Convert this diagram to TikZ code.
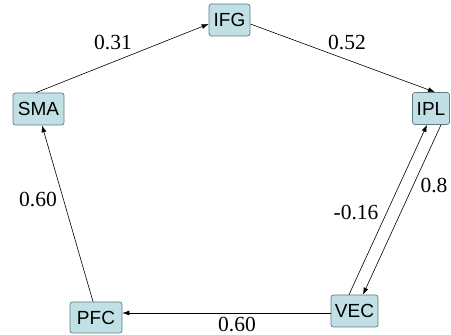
\documentclass[tikz,border=0pt]{standalone}
\usepackage{fontspec}
\setmainfont{Liberation Serif}
\setsansfont{Liberation Sans}
\usetikzlibrary{arrows.meta}
\definecolor{boxfill}{RGB}{192,224,230}
\definecolor{boxline}{RGB}{95,125,132}
\begin{document}
\begin{tikzpicture}[x=1pt,y=1pt,
  region/.style={draw=boxline, fill=boxfill, rounded corners=2.5pt, line width=0.7pt,
    inner sep=0pt, minimum height=32pt, font=\sffamily\fontsize{19}{20}\selectfont},
  link/.style={line width=0.6pt, -{Latex[length=7pt,width=5pt]}},
  wlabel/.style={font=\fontsize{21.5}{23}\selectfont, inner sep=0pt}]
\useasboundingbox (0,0) rectangle (451,335);
\node[region, minimum width=41pt] (IFG) at (229.5,315) {IFG};
\node[region, minimum width=51pt] (SMA) at (38.5,226) {SMA};
\node[region, minimum width=37pt] (IPL) at (431,226.5) {IPL};
\node[region, minimum width=47pt] (VEC) at (354.5,24) {VEC};
\node[region, minimum width=52pt, minimum height=31pt] (PFC) at (96,17.5) {PFC};
\draw[link] ([xshift=-2.5pt]SMA.north) -- ([yshift=-4pt]IFG.west);
\draw[link] ([yshift=-4pt]IFG.east) -- ([xshift=4pt]IPL.north);
\draw[link] ([xshift=-3pt]PFC.north) -- ([xshift=3.5pt]SMA.south);
\draw[link] ([yshift=-2pt]VEC.west) -- ([yshift=4.5pt]PFC.east);
\draw[link] ([xshift=-5.5pt]VEC.north) -- ([xshift=-4pt]IPL.south);
\draw[link] ([xshift=10pt]IPL.south) -- ([xshift=8.5pt]VEC.north);
\node[wlabel] (l1) at (113,292.5) {0.31};
\node[wlabel] (l2) at (347,292.5) {0.52};
\node[wlabel] (l3) at (38,135) {0.60};
\node[wlabel] (l4) at (237,10.5) {0.60};
\node[wlabel] (l5) at (356,122) {-0.16};
\node[wlabel] (l6) at (434,149) {0.8};
\end{tikzpicture}
\end{document}
